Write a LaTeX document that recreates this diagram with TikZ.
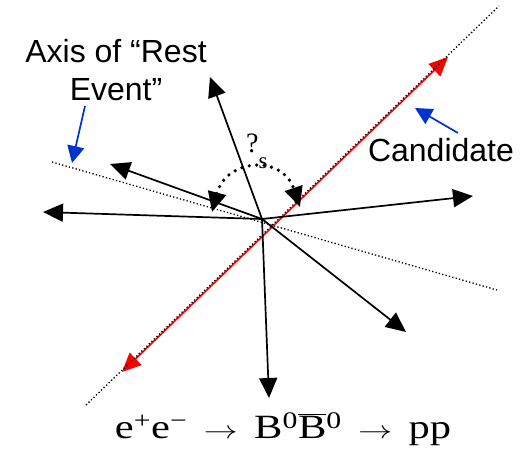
\documentclass[tikz,border=0pt]{standalone}
\usepackage{fontspec}
\usepackage{graphicx}
\setmainfont{Liberation Sans}
\newfontfamily\timesf{Liberation Serif}
\usetikzlibrary{arrows.meta}
\definecolor{arrowblue}{RGB}{0,51,204}
\tikzset{
  ray/.style={line width=1.7pt, -{Triangle[length=20pt,width=18pt]}},
  candline/.style={red, line width=1.6pt, {Triangle[length=19pt,width=17pt]}-{Triangle[length=19pt,width=17pt]}},
  axisdots/.style={black, line width=1.3pt, dash pattern=on 1.3pt off 2.2pt},
  thetaarc/.style={line width=3.6pt, line cap=round, dash pattern=on 0pt off 7.5pt, {Triangle[length=20pt,width=18pt]}-{Triangle[length=20pt,width=18pt]}},
  pointer/.style={arrowblue, line width=1.7pt, -{Triangle[length=17pt,width=17pt]}},
  lbl/.style={font=\fontsize{32}{38}\selectfont, inner sep=0pt},
}
\newcommand{\eqarrow}{\hspace{13pt}\scalebox{1.1}[1]{$\rightarrow$}\hspace{13pt}}
\begin{document}
\begin{tikzpicture}[x=1pt,y=-1pt]
\useasboundingbox (0,0) rectangle (527,451);
% centre and ray tips
\coordinate (c) at (262,219);
\coordinate (tUp) at (210,77);
\coordinate (tDown) at (269,398);
\coordinate (tLeft) at (43,212);
\coordinate (tUL) at (110,164);
\coordinate (tRight) at (473,196);
\coordinate (tLR) at (406,332);
% rest event axis
\coordinate (rA) at (52,162);
\coordinate (rB) at (497,290);
\draw[axisdots] (rA) -- (rB);
% candidate
\coordinate (cL) at (122,372);
\coordinate (cR) at (448,57);
\coordinate (dL) at (86,405);
\coordinate (dR) at (499,6);
\draw[candline] (cL) -- (cR);
\draw[axisdots] (dL) -- (dR);
% rays
\draw[ray] (c) -- (tUp);
\draw[ray] (c) -- (tDown);
\draw[ray] (c) -- (tLeft);
\draw[ray] (c) -- (tUL);
\draw[ray] (c) -- (tRight);
\draw[ray] (c) -- (tLR);
% angle arc
\coordinate (aL) at (212,212);
\coordinate (aR) at (300,207);
\draw[thetaarc] (aL) .. controls (226,159) and (282,154) .. (aR);
\node (theta) [anchor=base west, inner sep=0pt, font=\timesf\fontsize{28}{30}\selectfont] at (246,152) {?\raisebox{-16pt}{\fontsize{23}{23}\selectfont s}};
% labels
\node (ax1) [lbl, anchor=base] at (116,62) {Axis of “Rest};
\node (ax2) [lbl, anchor=base] at (116,100) {Event”};
\node (cand) [lbl, anchor=base] at (441,161) {Candidate};
\coordinate (p1s) at (85,106);
\coordinate (p1e) at (72,163);
\coordinate (p2s) at (458,133);
\coordinate (p2e) at (415,108);
\draw[pointer] (p1s) -- (p1e);
\draw[pointer] (p2s) -- (p2e);
% equation
\node (eq) [anchor=base, inner sep=0pt, font=\timesf\fontsize{34}{40}\selectfont] at (283,438)
  {\scalebox{1.25}[1]{e\textsuperscript{+}e\textsuperscript{−}\eqarrow B\textsuperscript{0}$\overline{\hbox{B}}$\textsuperscript{0}\eqarrow pp}};
\end{tikzpicture}
\end{document}
